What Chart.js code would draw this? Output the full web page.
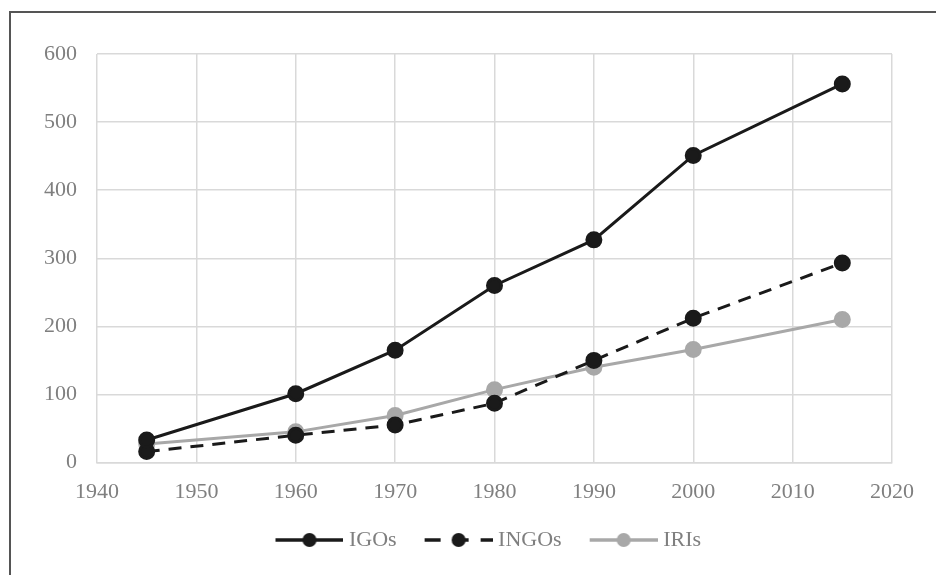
<!DOCTYPE html>
<html>
<head>
  <meta charset="utf-8">
  <title>IGOs, INGOs, IRIs</title>
  <script src="https://cdn.jsdelivr.net/npm/chart.js@4.4.0/dist/chart.umd.min.js"></script>
  <style>
    body { margin: 0; background: #fff; }
    #frame {
      position: absolute; left: 9px; top: 11px; width: 940px; height: 580px;
      border-top: 2px solid #555; border-left: 2px solid #555;
    }
    #wrap { position: absolute; left: 0; top: 0; width: 936px; height: 575px; }
  </style>
</head>
<body>
  <div id="frame"></div>
  <div id="wrap"><canvas id="chart" width="936" height="575"></canvas></div>

  <script>
    // data
    const years = [1945, 1960, 1970, 1980, 1990, 2000, 2015];
    const igos  = [33, 101, 165, 260, 327, 451, 556];
    const ingos = [16, 40, 55, 87, 150, 212, 293];
    const iris  = [27, 45, 69, 107, 140, 166, 210];

    const FONT = "'Liberation Serif', 'DejaVu Serif', serif";
    const TXT = '#7f7f7f';

    // legend marker: line with a dot in the middle (shifted right so the text sits closer)
    function marker(color, dash) {
      const c = document.createElement('canvas');
      c.width = 79; c.height = 18;
      const g = c.getContext('2d');
      g.translate(11, 0);
      g.strokeStyle = color;
      g.lineWidth = 3.5;
      g.setLineDash(dash);
      g.beginPath();
      g.moveTo(0, 9); g.lineTo(68, 9);
      g.stroke();
      g.setLineDash([]);
      g.fillStyle = color;
      g.beginPath();
      g.arc(34, 9, 7, 0, Math.PI * 2);
      g.fill();
      return c;
    }

    function pts(vals) {
      return years.map((y, i) => ({ x: y, y: vals[i] }));
    }

    const series = [
      { label: 'IGOs', data: igos, color: '#1a1a1a', dash: [], legDash: [] },
      { label: 'INGOs', data: ingos, color: '#1a1a1a', dash: [13, 9], legDash: [16, 12] },
      { label: 'IRIs', data: iris, color: '#a8a8a8', dash: [], legDash: [] }
    ];

    // nudge the legend a little to the left, like the original
    const legendShift = {
      id: 'legendShift',
      afterLayout(chart) {
        chart.legend.left -= 9;
        chart.legend.right -= 9;
      }
    };

    new Chart(document.getElementById('chart'), {
      type: 'line',
      data: {
        datasets: series.map(s => ({
          label: s.label,
          data: pts(s.data),
          borderColor: s.color,
          backgroundColor: s.color,
          pointBackgroundColor: s.color,
          pointBorderColor: s.color,
          borderWidth: 3,
          borderDash: s.dash,
          pointStyle: 'circle',
          pointRadius: 7,
          pointHoverRadius: 7,
          tension: 0
        }))
      },
      options: {
        responsive: false,
        animation: false,
        layout: { padding: { left: 0, right: 44, top: 54, bottom: 14 } },
        plugins: {
          tooltip: { enabled: false },
          legend: {
            position: 'bottom',
            fullSize: false,
            labels: {
              usePointStyle: true,
              pointStyleWidth: 68,
              boxHeight: 16,
              padding: 22.5,
              color: TXT,
              font: { family: FONT, size: 22 },
              generateLabels(chart) {
                return chart.data.datasets.map((d, i) => ({
                  text: d.label,
                  pointStyle: marker(series[i].color, series[i].legDash),
                  fontColor: TXT,
                  lineWidth: 0,
                  datasetIndex: i
                }));
              }
            }
          }
        },
        scales: {
          x: {
            type: 'linear',
            min: 1940, max: 2020,
            afterFit(scale) { scale.height = 44; },
            ticks: { stepSize: 10, color: TXT, font: { family: FONT, size: 22 }, padding: 17, callback: v => String(v) },
            grid: { color: '#d9d9d9', lineWidth: 1.5, drawTicks: false },
            border: { color: '#d9d9d9', width: 1.5 }
          },
          y: {
            min: 0, max: 600,
            afterFit(scale) { scale.width = 97; },
            ticks: { stepSize: 100, color: TXT, font: { family: FONT, size: 22 }, padding: 20 },
            grid: { color: '#d9d9d9', lineWidth: 1.5, drawTicks: false },
            border: { display: false }
          }
        }
      },
      plugins: [legendShift]
    });
  </script>
</body>
</html>
